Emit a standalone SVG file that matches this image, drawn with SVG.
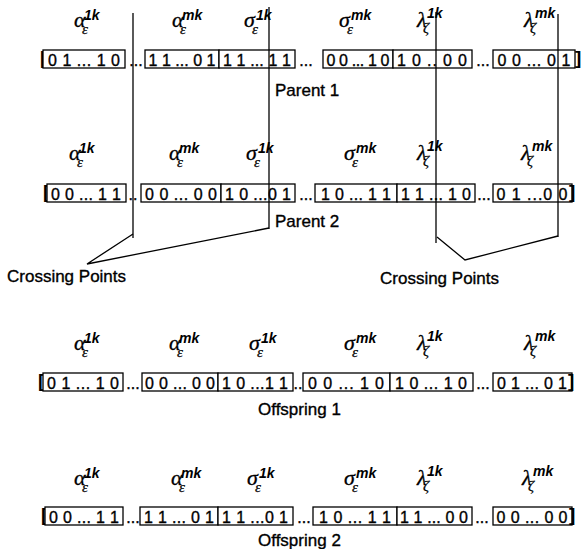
<svg xmlns="http://www.w3.org/2000/svg" width="586" height="549" viewBox="0 0 586 549">
  <style>
    .box { fill: #fff; stroke: #000; stroke-width: 1.3; }
    .bits { font-family: "Liberation Sans", Arial, sans-serif; font-size: 16px; text-anchor: middle; fill: #000; stroke: #000; stroke-width: 0.35; }
    .dots { font-family: "Liberation Sans", Arial, sans-serif; font-size: 16px; text-anchor: middle; fill: #000; stroke: #000; stroke-width: 0.35; }
    .br { font-family: "Liberation Sans", Arial, sans-serif; font-size: 19px; font-weight: bold; fill: #000; }
    .cap { font-family: "Liberation Sans", Arial, sans-serif; font-size: 17px; fill: #000; stroke: #000; stroke-width: 0.35; }
    .g { font-family: "Liberation Serif", "Times New Roman", serif; font-style: italic; font-size: 22px; fill: #000; stroke: #000; stroke-width: 0.3; }
    .sub { font-family: "Liberation Serif", "Times New Roman", serif; font-style: italic; font-size: 15px; fill: #000; stroke: #000; stroke-width: 0.25; }
    .sup { font-family: "Liberation Sans", Arial, sans-serif; font-style: italic; font-weight: bold; font-size: 14px; fill: #000; }
    .cut { fill: none; stroke: #000; stroke-width: 1.3; }
  </style>

  <!-- Parent 1 -->
  <g id="parent1">
    <g id="p1-labels">
      <g transform="translate(74,27)"><text class="g">α</text><text class="sub" x="8" y="7">ε</text><text class="sup" x="10" y="-7">1k</text></g>
      <g transform="translate(172,27)"><text class="g">α</text><text class="sub" x="8" y="7">ε</text><text class="sup" x="10" y="-7">mk</text></g>
      <g transform="translate(244,27)"><text class="g">σ</text><text class="sub" x="8" y="7">ε</text><text class="sup" x="12" y="-7">1k</text></g>
      <g transform="translate(339,27)"><text class="g">σ</text><text class="sub" x="8" y="7">ε</text><text class="sup" x="12" y="-7">mk</text></g>
      <g transform="translate(417,27)"><text class="g">λ</text><text class="sub" x="6" y="6">ζ</text><text class="sup" x="10" y="-9">1k</text></g>
      <g transform="translate(524,27)"><text class="g">λ</text><text class="sub" x="6" y="6">ζ</text><text class="sup" x="11" y="-9">mk</text></g>
    </g>
    <text class="br" x="40" y="64">[</text>
    <g id="p1-a1"><rect class="box" x="43" y="50" width="82" height="18"/><text class="bits" x="84" y="66" textLength="72">0 1 ... 1 0</text></g>
    <text class="dots" x="136" y="66">...</text>
    <g id="p1-am"><rect class="box" x="145" y="50" width="74" height="18"/><text class="bits" x="182" y="66" textLength="67">1 1 ... 0 1</text></g>
    <g id="p1-s1"><rect class="box" x="219" y="50" width="76" height="18"/><text class="bits" x="257" y="66" textLength="68">1 1 ... 1 1</text></g>
    <text class="dots" x="306" y="66">...</text>
    <g id="p1-sm"><rect class="box" x="323" y="50" width="70" height="18"/><text class="bits" x="358" y="66" textLength="63">0 0 ... 1 0</text></g>
    <g id="p1-l1"><rect class="box" x="393" y="50" width="79" height="18"/><text class="bits" x="432" y="66" textLength="70">1 0 .. 0 0</text></g>
    <text class="dots" x="483" y="66">...</text>
    <g id="p1-lm"><rect class="box" x="493" y="50" width="82" height="18"/><text class="bits" x="534" y="66" textLength="73">0 0 ... 0 1</text></g>
    <text class="br" x="575" y="64">]</text>
    <text class="cap" x="275" y="96">Parent 1</text>
  </g>

  <!-- Parent 2 -->
  <g id="parent2">
    <g id="p2-labels">
      <g transform="translate(69,160)"><text class="g">α</text><text class="sub" x="8" y="7">ε</text><text class="sup" x="10" y="-7">1k</text></g>
      <g transform="translate(169,160)"><text class="g">α</text><text class="sub" x="8" y="7">ε</text><text class="sup" x="10" y="-7">mk</text></g>
      <g transform="translate(246,160)"><text class="g">σ</text><text class="sub" x="8" y="7">ε</text><text class="sup" x="12" y="-7">1k</text></g>
      <g transform="translate(344,160)"><text class="g">σ</text><text class="sub" x="8" y="7">ε</text><text class="sup" x="12" y="-7">mk</text></g>
      <g transform="translate(417,160)"><text class="g">λ</text><text class="sub" x="6" y="6">ζ</text><text class="sup" x="10" y="-9">1k</text></g>
      <g transform="translate(521,160)"><text class="g">λ</text><text class="sub" x="6" y="6">ζ</text><text class="sup" x="11" y="-9">mk</text></g>
    </g>
    <text class="br" x="43" y="198">[</text>
    <g id="p2-a1"><rect class="box" x="47" y="184" width="79" height="18"/><text class="bits" x="86" y="200" textLength="70">0 0 ... 1 1</text></g>
    <text class="dots" x="133" y="200">..</text>
    <g id="p2-am"><rect class="box" x="141" y="184" width="80" height="18"/><text class="bits" x="181" y="200" textLength="72">0 0 ... 0 0</text></g>
    <g id="p2-s1"><rect class="box" x="221" y="184" width="74" height="18"/><text class="bits" x="258" y="200" textLength="66">1 0 ...0 1</text></g>
    <text class="dots" x="306" y="200">...</text>
    <g id="p2-sm"><rect class="box" x="315" y="184" width="82" height="18"/><text class="bits" x="356" y="200" textLength="70">1 0 ... 1 1</text></g>
    <g id="p2-l1"><rect class="box" x="397" y="184" width="78" height="18"/><text class="bits" x="436" y="200" textLength="70">1 1 ... 1 0</text></g>
    <text class="dots" x="484" y="200">...</text>
    <g id="p2-lm"><rect class="box" x="493" y="184" width="79" height="18"/><text class="bits" x="532" y="200" textLength="71">0 1 ...0 0</text></g>
    <text class="br" x="569" y="198">]</text>
    <text class="cap" x="275" y="227">Parent 2</text>
  </g>

  <!-- Crossover cut lines and their pointers -->
  <g id="connectors">
    <line class="cut" x1="133" y1="13" x2="133" y2="238"/>
    <line class="cut" x1="269" y1="7" x2="269" y2="229"/>
    <line class="cut" x1="436" y1="12" x2="436" y2="243"/>
    <line class="cut" x1="558" y1="14" x2="558" y2="237"/>
    <polyline class="cut" points="133,234 87,264 269,228"/>
    <polyline class="cut" points="437,237 465,260 558,236"/>
  </g>
  <g id="crossing-left"><text class="cap" x="7" y="282">Crossing Points</text></g>
  <g id="crossing-right"><text class="cap" x="380" y="284">Crossing Points</text></g>

  <!-- Offspring 1 -->
  <g id="offspring1">
    <g id="o1-labels">
      <g transform="translate(74,350)"><text class="g">α</text><text class="sub" x="8" y="7">ε</text><text class="sup" x="10" y="-7">1k</text></g>
      <g transform="translate(169,350)"><text class="g">α</text><text class="sub" x="8" y="7">ε</text><text class="sup" x="10" y="-7">mk</text></g>
      <g transform="translate(249,350)"><text class="g">σ</text><text class="sub" x="8" y="7">ε</text><text class="sup" x="12" y="-7">1k</text></g>
      <g transform="translate(344,350)"><text class="g">σ</text><text class="sub" x="8" y="7">ε</text><text class="sup" x="12" y="-7">mk</text></g>
      <g transform="translate(417,350)"><text class="g">λ</text><text class="sub" x="6" y="6">ζ</text><text class="sup" x="10" y="-9">1k</text></g>
      <g transform="translate(524,350)"><text class="g">λ</text><text class="sub" x="6" y="6">ζ</text><text class="sup" x="11" y="-9">mk</text></g>
    </g>
    <text class="br" x="38" y="387">[</text>
    <g id="o1-a1"><rect class="box" x="43" y="373" width="80" height="18"/><text class="bits" x="83" y="389" textLength="72">0 1 ... 1 0</text></g>
    <text class="dots" x="133" y="389">...</text>
    <g id="o1-am"><rect class="box" x="142" y="373" width="76" height="18"/><text class="bits" x="180" y="389" textLength="70">0 0 ... 0 0</text></g>
    <g id="o1-s1"><rect class="box" x="218" y="373" width="75" height="18"/><text class="bits" x="255" y="389" textLength="66">1 0 ...1 1</text></g>
    <text class="dots" x="298" y="389">..</text>
    <g id="o1-sm"><rect class="box" x="303" y="373" width="87" height="18"/><text class="bits" x="346" y="389" textLength="76">0 0 ... 1 0</text></g>
    <g id="o1-l1"><rect class="box" x="390" y="373" width="83" height="18"/><text class="bits" x="431" y="389" textLength="72">1 0 ... 1 0</text></g>
    <text class="dots" x="483" y="389">...</text>
    <g id="o1-lm"><rect class="box" x="493" y="373" width="79" height="18"/><text class="bits" x="532" y="389" textLength="70">0 1 ... 0 1</text></g>
    <text class="br" x="568" y="387">]</text>
    <text class="cap" x="258" y="415">Offspring 1</text>
  </g>

  <!-- Offspring 2 -->
  <g id="offspring2">
    <g id="o2-labels">
      <g transform="translate(74,485)"><text class="g">α</text><text class="sub" x="8" y="7">ε</text><text class="sup" x="10" y="-7">1k</text></g>
      <g transform="translate(171,485)"><text class="g">α</text><text class="sub" x="8" y="7">ε</text><text class="sup" x="10" y="-7">mk</text></g>
      <g transform="translate(247,485)"><text class="g">σ</text><text class="sub" x="8" y="7">ε</text><text class="sup" x="12" y="-7">1k</text></g>
      <g transform="translate(344,485)"><text class="g">σ</text><text class="sub" x="8" y="7">ε</text><text class="sup" x="12" y="-7">mk</text></g>
      <g transform="translate(417,485)"><text class="g">λ</text><text class="sub" x="6" y="6">ζ</text><text class="sup" x="10" y="-9">1k</text></g>
      <g transform="translate(522,485)"><text class="g">λ</text><text class="sub" x="6" y="6">ζ</text><text class="sup" x="11" y="-9">mk</text></g>
    </g>
    <text class="br" x="41" y="521">[</text>
    <g id="o2-a1"><rect class="box" x="45" y="507" width="78" height="18"/><text class="bits" x="84" y="523" textLength="70">0 0 ... 1 1</text></g>
    <text class="dots" x="133" y="523">...</text>
    <g id="o2-am"><rect class="box" x="140" y="507" width="78" height="18"/><text class="bits" x="179" y="523" textLength="70">1 1 ... 0 1</text></g>
    <g id="o2-s1"><rect class="box" x="218" y="507" width="75" height="18"/><text class="bits" x="255" y="523" textLength="66">1 1 ...0 1</text></g>
    <text class="dots" x="304" y="523">...</text>
    <g id="o2-sm"><rect class="box" x="313" y="507" width="84" height="18"/><text class="bits" x="355" y="523" textLength="72">1 0 ... 1 1</text></g>
    <g id="o2-l1"><rect class="box" x="397" y="507" width="75" height="18"/><text class="bits" x="434" y="523" textLength="68">1 1 ... 0 0</text></g>
    <text class="dots" x="482" y="523">...</text>
    <g id="o2-lm"><rect class="box" x="493" y="507" width="79" height="18"/><text class="bits" x="532" y="523" textLength="71">0 0 ... 0 0</text></g>
    <text class="br" x="569" y="521">]</text>
    <text class="cap" x="258" y="546">Offspring 2</text>
  </g>
</svg>
